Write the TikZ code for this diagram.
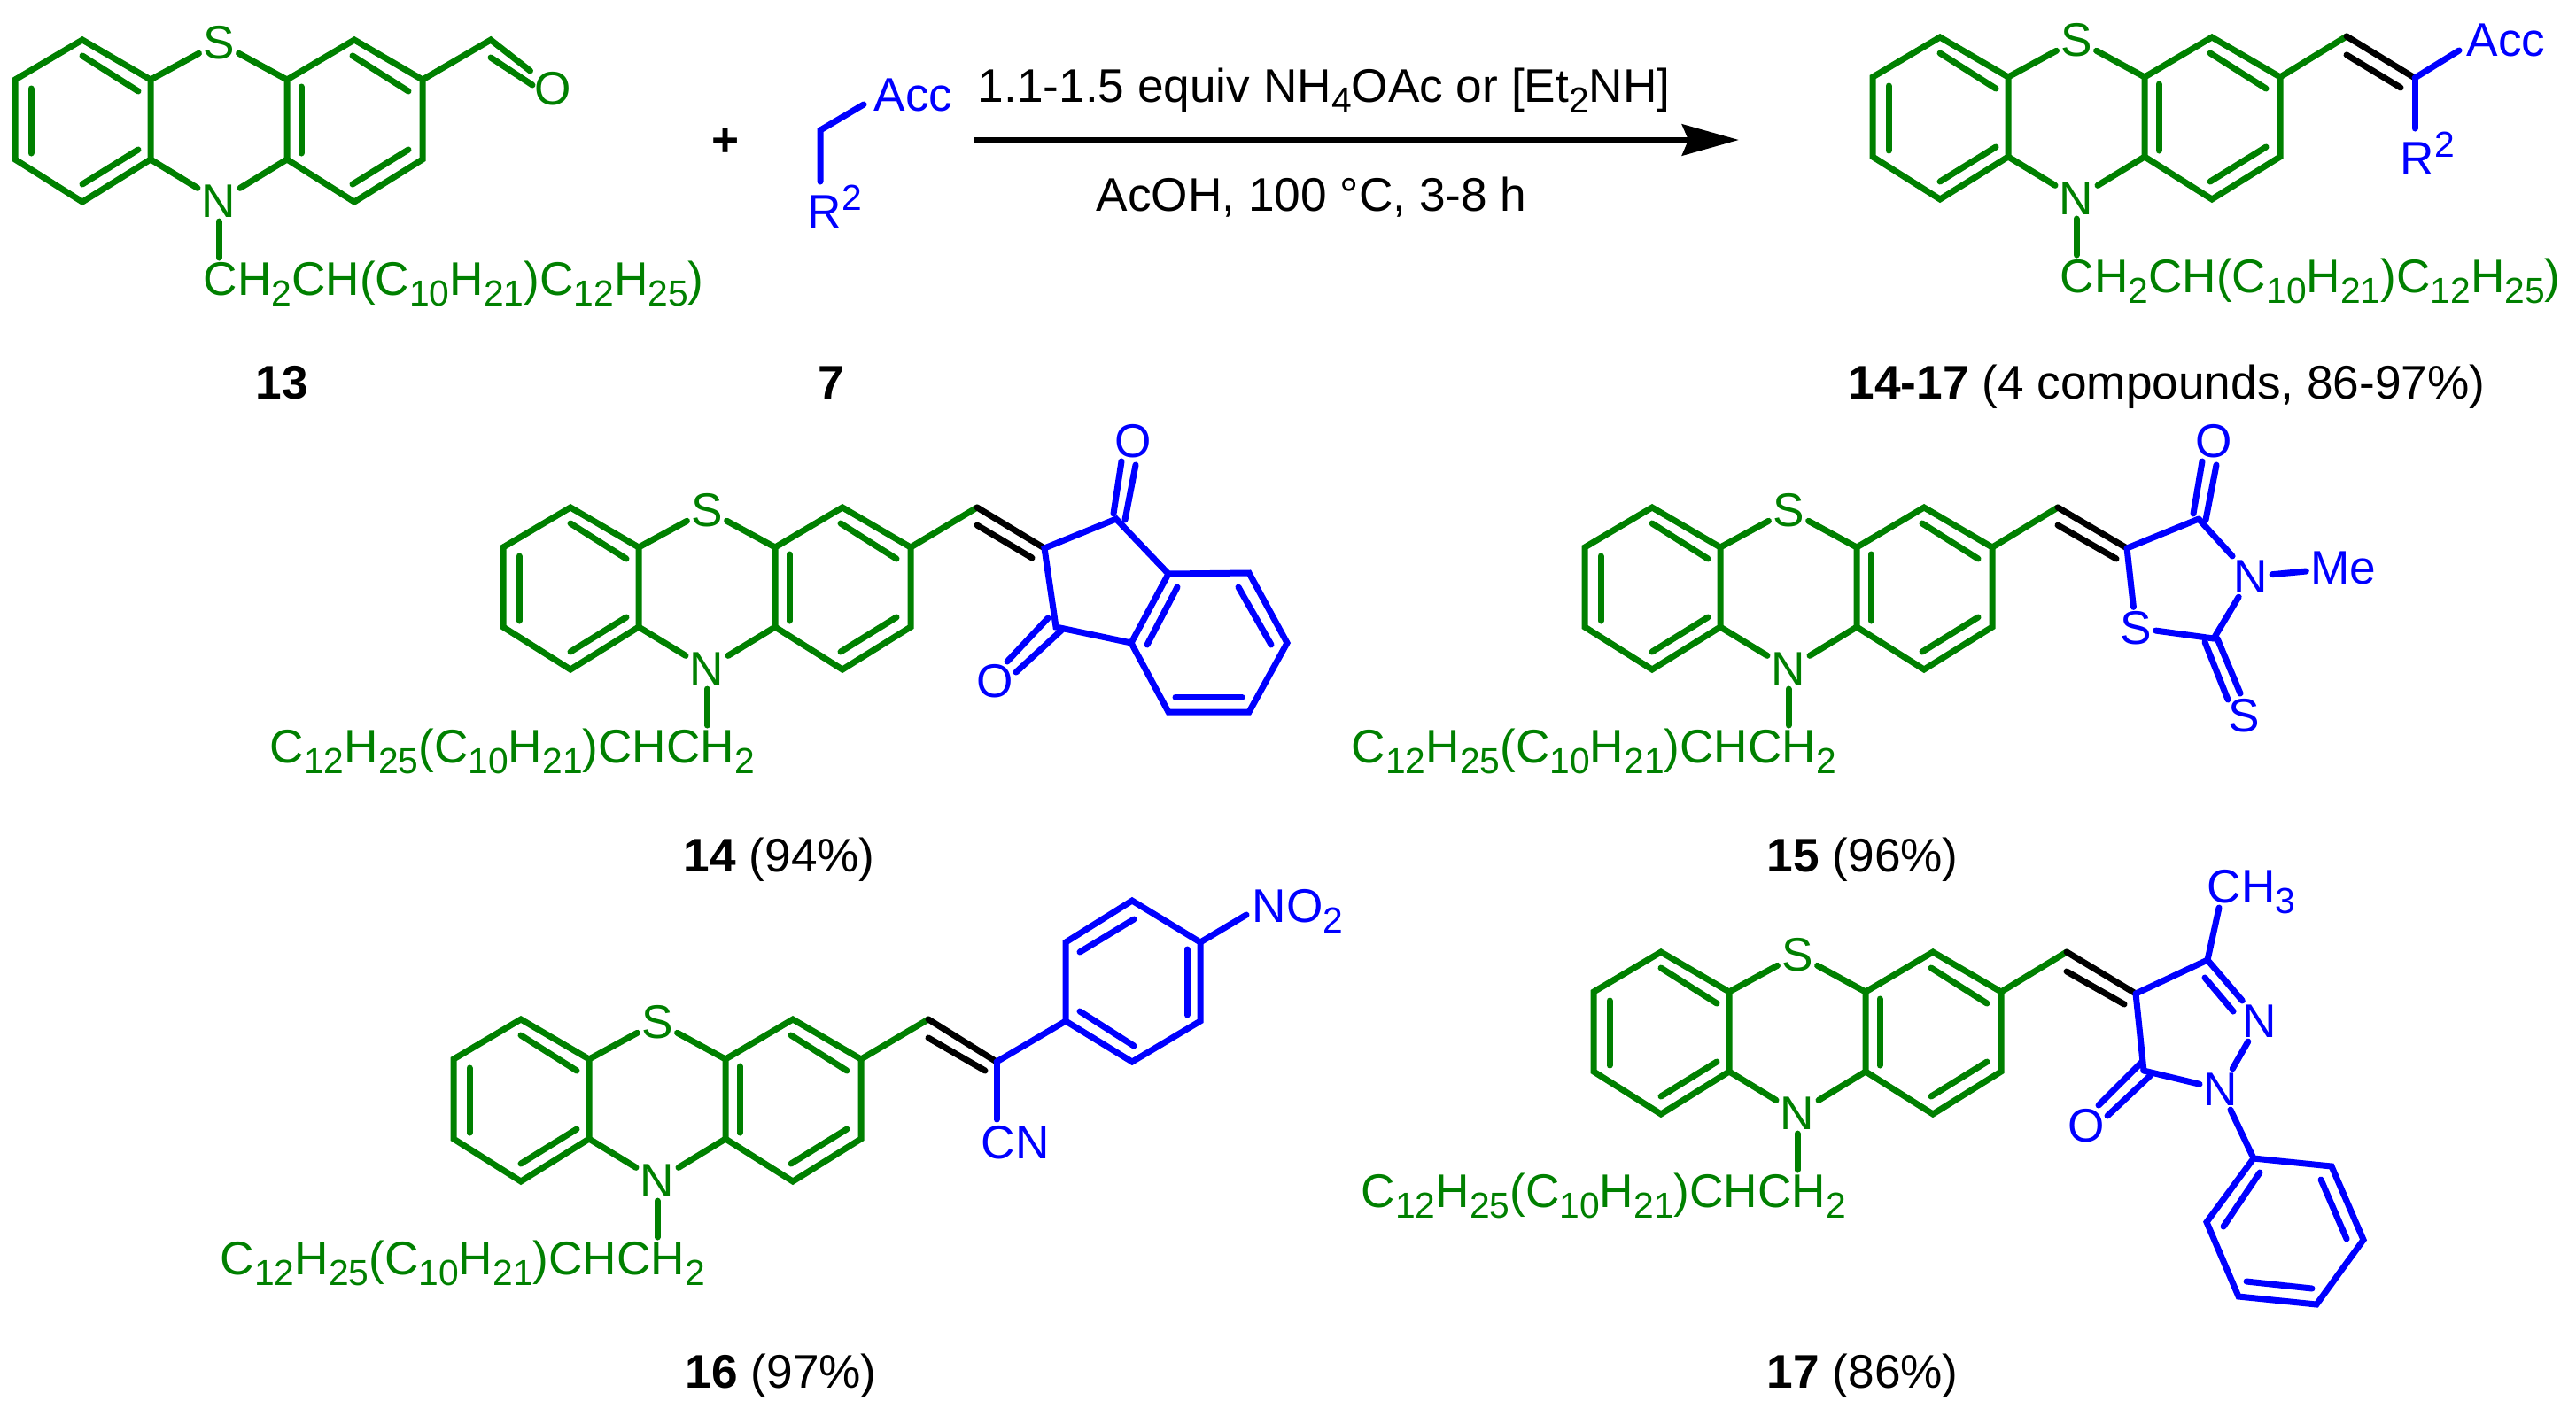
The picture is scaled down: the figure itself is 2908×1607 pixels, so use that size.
\documentclass[tikz,border=0pt]{standalone}
\usepackage{fontspec}
\setmainfont{Liberation Sans}
\usetikzlibrary{arrows.meta}
\definecolor{mygreen}{RGB}{0,128,0}
\definecolor{myblue}{RGB}{0,0,255}
\newcommand{\lo}[1]{\raisebox{-3.2pt}{\fontsize{10.2}{12}\selectfont #1}}
\newcommand{\hi}[1]{\raisebox{5pt}{\fontsize{10.2}{12}\selectfont #1}}
\newcommand{\chainright}{CH\lo{2}CH(C\lo{10}H\lo{21})C\lo{12}H\lo{25})}
\newcommand{\chainleft}{C\lo{12}H\lo{25}(C\lo{10}H\lo{21})CHCH\lo{2}}
\tikzset{
    every node/.style={font=\fontsize{13.3}{16}\selectfont},
    bond/.style={line width=1.75pt, line cap=round},
    core/.style={bond, mygreen},
    accbond/.style={bond, myblue},
    link/.style={bond, black},
    atom/.style={inner sep=1pt},
    coreatom/.style={atom, text=mygreen},
    accatom/.style={atom, text=myblue},
    caption/.style={anchor=base west, inner sep=0pt},
    coretext/.style={caption, text=mygreen},
    acctext/.style={caption, text=myblue}
}
% tricyclic core: name, centre x, centre y, chain x, chain text
\newcommand{\ptz}[5]{
    \begin{scope}[shift={(#2,#3)}]
        \coordinate (#1-a) at (-154,-91);
        \coordinate (#1-b) at (-230,-46);
        \coordinate (#1-c) at (-230,44);
        \coordinate (#1-d) at (-154,92);
        \coordinate (#1-e) at (-77,44);
        \coordinate (#1-f) at (-77,-46);
        \coordinate (#1-g) at (77,-46);
        \coordinate (#1-h) at (153,-91);
        \coordinate (#1-i) at (230,-46);
        \coordinate (#1-j) at (230,44);
        \coordinate (#1-k) at (153,92);
        \coordinate (#1-l) at (77,44);
        \coordinate (#1-tail) at (0,155);
        \node[coreatom] (#1-S) at (0,-88) {S};
        \node[coreatom] (#1-N) at (0,91) {N};
        \node[coretext] (#1-chain) at (#4,197) {#5};
        \draw[core] (#1-f) -- (#1-a) -- (#1-b) -- (#1-c) -- (#1-d) -- (#1-e) -- cycle;
        \draw[core] (#1-g) -- (#1-h) -- (#1-i) -- (#1-j) -- (#1-k) -- (#1-l) -- cycle;
        \draw[core] (#1-f) -- (#1-S);
        \draw[core] (#1-g) -- (#1-S);
        \draw[core] (#1-e) -- (#1-N);
        \draw[core] (#1-l) -- (#1-N);
        \draw[core] (#1-N) -- (#1-tail);
        \draw[core] (-154,-73) -- (-91,-33);
        \draw[core] (-212,-36) -- (-212,37);
        \draw[core] (-154,72) -- (-91,33);
        \draw[core] (93,-38) -- (93,37);
        \draw[core] (151,-73) -- (214,-33);
        \draw[core] (151,72) -- (214,33);
    \end{scope}
}
\begin{document}
\begin{tikzpicture}[x=0.25pt, y=-0.25pt]
    \useasboundingbox (0,0) rectangle (2908,1607);

    % aldehyde 13
    \ptz{A}{247}{136}{-18}{\chainright}
    \coordinate (A-cho) at (554,45);
    \node[coreatom] (A-O) at (624,100) {O};
    \draw[core] (A-i) -- (A-cho) -- (A-O);
    \draw[core] (554,65) -- (601,96);
    \node[caption] (A-label) at (288,450) {\textbf{13}};

    % acceptor 7
    \node[inner sep=0pt] (plus) at (819,161) {\textbf{+}};
    \coordinate (B-mid) at (926,147);
    \coordinate (B-acc) at (975,118);
    \coordinate (B-r) at (926,205);
    \draw[accbond] (B-acc) -- (B-mid) -- (B-r);
    \node[acctext] (B-acctext) at (986,125) {Acc};
    \node[acctext] (B-rtext) at (911,257) {R\hi{2}};
    \node[caption] (B-label) at (923,450) {\textbf{7}};

    % reaction arrow
    \coordinate (arrow-start) at (1100,158);
    \coordinate (arrow-end) at (1963,158);
    \draw[line width=1.75pt, -{Stealth[length=16pt, width=8.75pt, inset=1.75pt]}] (arrow-start) -- (arrow-end);
    \node[caption] (cond-top) at (1103,115) {1.1-1.5 equiv NH\lo{4}OAc or [Et\lo{2}NH]};
    \node[caption] (cond-bottom) at (1237,238) {AcOH, 100 °C, 3-8 h};

    % general product
    \ptz{P}{2344}{133}{-19}{\chainright}
    \coordinate (P-a1) at (2649,41);
    \coordinate (P-a2) at (2726,88);
    \coordinate (P-acc) at (2776,57);
    \coordinate (P-r) at (2726,145);
    \draw[core] (P-i) -- (P-a1);
    \draw[link] (P-a1) -- (P-a2);
    \draw[link] (2649,62) -- (2710,99);
    \draw[accbond] (P-a2) -- (P-acc);
    \draw[accbond] (P-a2) -- (P-r);
    \node[acctext] (P-acctext) at (2784,63) {Acc};
    \node[acctext] (P-rtext) at (2709,197) {R\hi{2}};
    \node[caption] (P-label) at (2086,450) {\textbf{14-17} (4 compounds, 86-97\%)};

    % compound 14
    \ptz{C}{798}{664}{-494}{\chainleft}
    \coordinate (C-a1) at (1103,573);
    \coordinate (C-a2) at (1179,619);
    \coordinate (C-r1) at (1260,586);
    \coordinate (C-r2) at (1319,648);
    \coordinate (C-r3) at (1410,647);
    \coordinate (C-r4) at (1453,726);
    \coordinate (C-r5) at (1410,804);
    \coordinate (C-r6) at (1319,804);
    \coordinate (C-r7) at (1277,726);
    \coordinate (C-r8) at (1192,708);
    \node[accatom] (C-O1) at (1279,498) {O};
    \node[accatom] (C-O2) at (1123,769) {O};
    \draw[core] (C-i) -- (C-a1);
    \draw[link] (C-a1) -- (C-a2);
    \draw[link] (1103,593) -- (1165,630);
    \draw[accbond] (C-a2) -- (C-r1) -- (C-r2) -- (C-r7) -- (C-r8) -- cycle;
    \draw[accbond] (C-r2) -- (C-r3) -- (C-r4) -- (C-r5) -- (C-r6) -- (C-r7);
    \draw[accbond] (1257,580) -- (1266,521);
    \draw[accbond] (1270,587) -- (1282,525);
    \draw[accbond] (1183,698) -- (1137,747);
    \draw[accbond] (1199,711) -- (1147,759);
    \draw[accbond] (1329,663) -- (1295,728);
    \draw[accbond] (1398,663) -- (1435,728);
    \draw[accbond] (1327,787) -- (1402,787);
    \node[caption] (C-label) at (771,984) {\textbf{14} (94\%)};

    % compound 15
    \ptz{D}{2019}{664}{-494}{\chainleft}
    \coordinate (D-a1) at (2323,573);
    \coordinate (D-a2) at (2401,619);
    \coordinate (D-r1) at (2482,586);
    \coordinate (D-r2) at (2499,721);
    \node[accatom] (D-O) at (2499,498) {O};
    \node[accatom] (D-N) at (2541,651) {N};
    \node[accatom] (D-Me) at (2645,641) {Me};
    \node[accatom] (D-S1) at (2411,709) {S};
    \node[accatom] (D-S2) at (2533,808) {S};
    \draw[core] (D-i) -- (D-a1);
    \draw[link] (D-a1) -- (D-a2);
    \draw[link] (2323,593) -- (2389,631);
    \draw[accbond] (D-a2) -- (D-r1);
    \draw[accbond] (D-r1) -- (D-N);
    \draw[accbond] (D-N) -- (D-Me);
    \draw[accbond] (D-N) -- (D-r2);
    \draw[accbond] (D-r2) -- (D-S1);
    \draw[accbond] (D-a2) -- (D-S1);
    \draw[accbond] (2476,580) -- (2486,521);
    \draw[accbond] (2490,587) -- (2502,525);
    \draw[accbond] (2489,725) -- (2515,790);
    \draw[accbond] (2503,721) -- (2529,783);
    \node[caption] (D-label) at (1994,984) {\textbf{15} (96\%)};

    % compound 16
    \ptz{E}{742}{1242}{-494}{\chainleft}
    \coordinate (E-a1) at (1048,1151);
    \coordinate (E-a2) at (1125,1199);
    \coordinate (E-r1) at (1203,1153);
    \coordinate (E-r2) at (1203,1064);
    \coordinate (E-r3) at (1278,1017);
    \coordinate (E-r4) at (1355,1064);
    \coordinate (E-r5) at (1355,1153);
    \coordinate (E-r6) at (1278,1199);
    \coordinate (E-no) at (1407,1033);
    \coordinate (E-cn) at (1125,1264);
    \draw[core] (E-i) -- (E-a1);
    \draw[link] (E-a1) -- (E-a2);
    \draw[link] (1048,1172) -- (1112,1209);
    \draw[accbond] (E-a2) -- (E-r1);
    \draw[accbond] (E-a2) -- (E-cn);
    \draw[accbond] (E-r1) -- (E-r2) -- (E-r3) -- (E-r4) -- (E-r5) -- (E-r6) -- cycle;
    \draw[accbond] (E-r4) -- (E-no);
    \draw[accbond] (1219,1075) -- (1280,1038);
    \draw[accbond] (1340,1072) -- (1340,1146);
    \draw[accbond] (1219,1142) -- (1280,1181);
    \node[acctext] (E-notext) at (1413,1041) {NO\lo{2}};
    \node[acctext] (E-cntext) at (1107,1308) {CN};
    \node[caption] (E-label) at (773,1567) {\textbf{16} (97\%)};

    % compound 17
    \ptz{F}{2029}{1166}{-493}{\chainleft}
    \coordinate (F-a1) at (2333,1075);
    \coordinate (F-a2) at (2411,1122);
    \coordinate (F-r1) at (2492,1084);
    \coordinate (F-r2) at (2420,1209);
    \coordinate (F-me) at (2505,1025);
    \coordinate (F-p1) at (2544,1308);
    \coordinate (F-p2) at (2632,1317);
    \coordinate (F-p3) at (2668,1400);
    \coordinate (F-p4) at (2615,1473);
    \coordinate (F-p5) at (2527,1464);
    \coordinate (F-p6) at (2491,1380);
    \node[accatom] (F-N1) at (2551,1153) {N};
    \node[accatom] (F-N2) at (2507,1230) {N};
    \node[accatom] (F-O) at (2355,1271) {O};
    \node[acctext] (F-metext) at (2491,1019) {CH\lo{3}};
    \draw[core] (F-i) -- (F-a1);
    \draw[link] (F-a1) -- (F-a2);
    \draw[link] (2333,1097) -- (2398,1134);
    \draw[accbond] (F-a2) -- (F-r1);
    \draw[accbond] (F-r1) -- (F-me);
    \draw[accbond] (F-r1) -- (F-N1);
    \draw[accbond] (F-N1) -- (F-N2);
    \draw[accbond] (F-N2) -- (F-r2);
    \draw[accbond] (F-r2) -- (F-a2);
    \draw[accbond] (F-N2) -- (F-p1);
    \draw[accbond] (F-p1) -- (F-p2) -- (F-p3) -- (F-p4) -- (F-p5) -- (F-p6) -- cycle;
    \draw[accbond] (2489,1104) -- (2521,1142);
    \draw[accbond] (2418,1199) -- (2369,1248);
    \draw[accbond] (2428,1214) -- (2379,1260);
    \draw[accbond] (2551,1324) -- (2510,1385);
    \draw[accbond] (2620,1332) -- (2649,1399);
    \draw[accbond] (2536,1447) -- (2610,1455);
    \node[caption] (F-label) at (1994,1567) {\textbf{17} (86\%)};
\end{tikzpicture}
\end{document}
